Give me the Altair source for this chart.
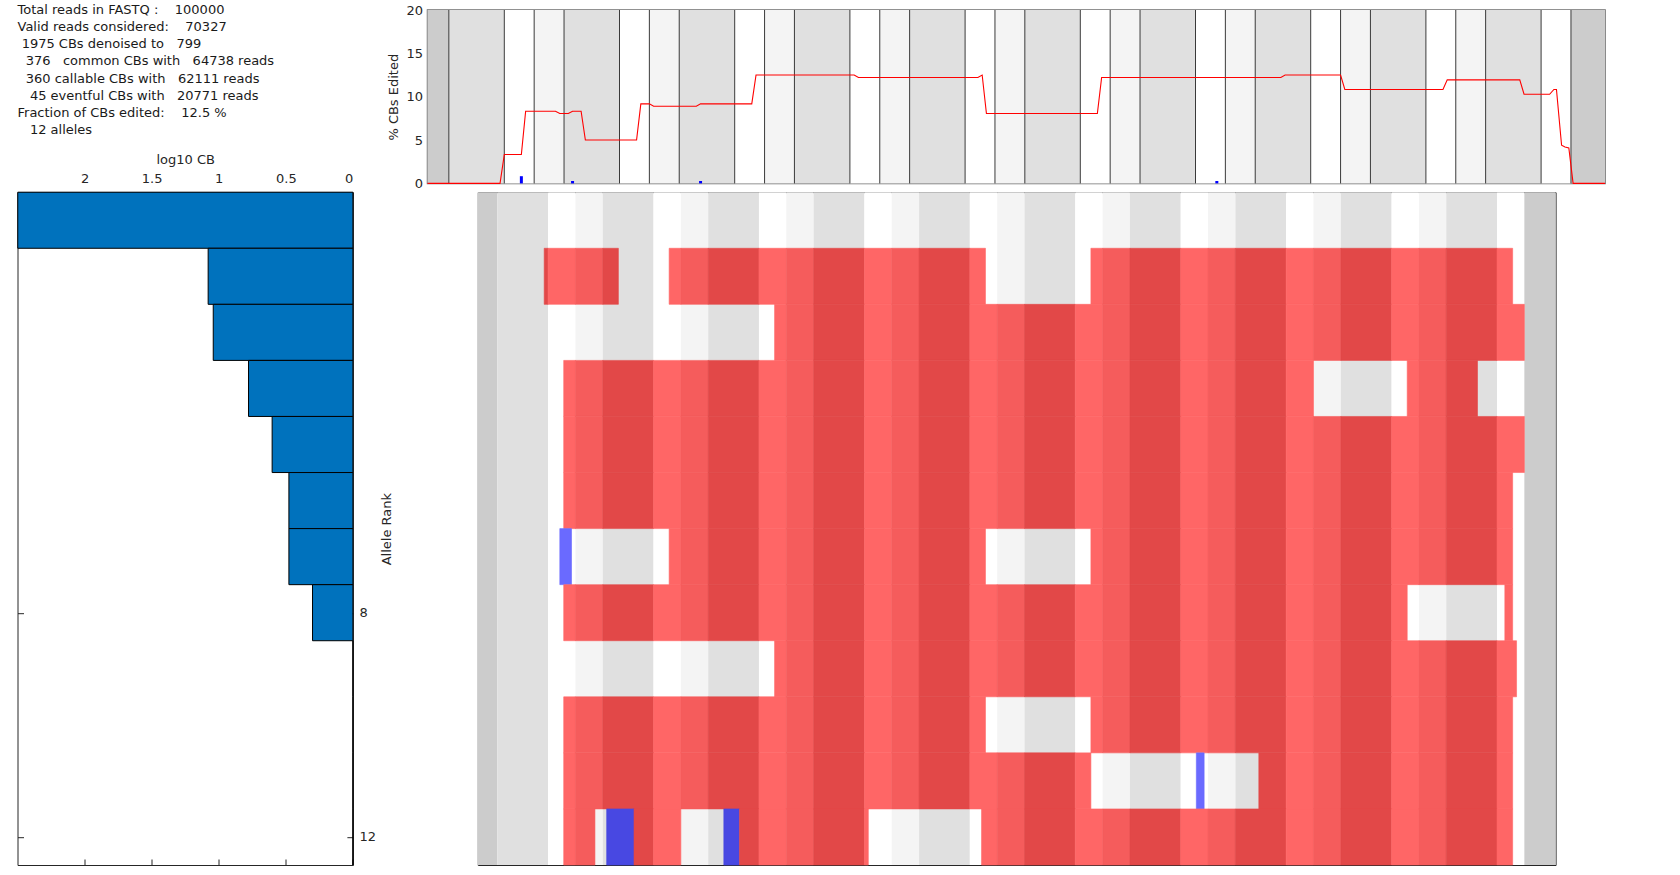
import altair as alt
import pandas as pd

FONT = "DejaVu Sans"
INK = "#262626"

# ---------------- summary text ----------------
info_lines = [
    "Total reads in FASTQ :    100000",
    "Valid reads considered:    70327",
    " 1975 CBs denoised to   799",
    "  376   common CBs with   64738 reads",
    "  360 callable CBs with   62111 reads",
    "   45 eventful CBs with   20771 reads",
    "Fraction of CBs edited:    12.5 %",
    "   12 alleles",
]

# ---------------- amplicon segments (bp) ----------------
seg_bounds = [0, 5, 18, 25, 32, 45, 52, 59, 72, 79, 86, 99, 106, 113, 126, 133, 140,
              153, 160, 167, 180, 187, 194, 207, 214, 221, 234, 241, 248, 261, 268, 276]
seg_kind = ["prefix",
            "consite", "cutsite", "pam", "consite", "cutsite", "pam",
            "consite", "cutsite", "pam", "consite", "cutsite", "pam",
            "consite", "cutsite", "pam", "consite", "cutsite", "pam",
            "consite", "cutsite", "pam", "consite", "cutsite", "pam",
            "consite", "cutsite", "pam",
            "consite", "cutsite", "postfix"]

# ---------------- allele frequencies ----------------
allele_rank = [1, 2, 3, 4, 5, 6, 7, 8, 9, 10, 11, 12]
allele_log10cb = [2.498, 1.079, 1.041, 0.778, 0.602, 0.477, 0.477, 0.301, 0.0, 0.0, 0.0, 0.0]

# ---------------- allele edits (rank, start bp, end bp, type) ----------------
edit_rank = [2, 2, 2, 3, 4, 4, 5, 6, 7, 7, 7, 8, 8, 9, 10, 10, 11, 11, 11, 12, 12, 12, 12, 12, 12]
edit_start = [17, 49, 157, 76, 22, 238, 22, 22, 21, 49, 157, 22, 263, 76, 22, 157, 22, 184, 200,
              22, 33, 40, 63, 67, 129]
edit_end = [36, 130, 265, 268, 214, 256, 268, 265, 24, 130, 265, 238, 265, 266, 130, 265, 157, 186, 265,
            30, 40, 52, 67, 100, 265]
edit_type = ["del", "del", "del", "del", "del", "del", "del", "del", "ins", "del", "del", "del", "del",
             "del", "del", "del", "del", "ins", "del", "del", "ins", "del", "ins", "del", "del"]

# ---------------- % CBs edited trace ----------------
line_bp = [0, 17, 18, 22, 23, 30, 31, 33, 34, 36, 37, 49, 50, 52, 53, 63, 64, 76, 77, 100, 101,
           129, 130, 131, 157, 158, 200, 201, 214, 215, 238, 239, 256, 257, 263, 264, 264.6,
           265.8, 266.6, 267.5, 268.5, 276]
line_pct = [0, 0, 3.33, 3.33, 8.33, 8.33, 8.06, 8.06, 8.33, 8.33, 5.0, 5.0, 9.17, 9.17, 8.89, 8.89,
            9.17, 9.17, 12.5, 12.5, 12.22, 12.22, 12.5, 8.06, 8.06, 12.22, 12.22, 12.5, 12.5, 10.83,
            10.83, 11.94, 11.94, 10.28, 10.28, 10.83, 10.83, 4.4, 4.2, 4.1, 0, 0]

# insertion markers
ins_bp = [22, 34, 64, 185]
ins_pct = [0.83, 0.28, 0.28, 0.28]

base_color = {"prefix": "#cccccc", "postfix": "#cccccc", "consite": "#e0e0e0",
              "cutsite": "#ffffff", "pam": "#f4f4f4"}
del_color = {"prefix": "#d05050", "postfix": "#d05050", "consite": "#e24848",
             "cutsite": "#ff6666", "pam": "#f55c5c"}
ins_color = {"prefix": "#5050d0", "postfix": "#5050d0", "consite": "#4848e2",
             "cutsite": "#6a6aff", "pam": "#5c5cf5"}

# ---------------- build tables ----------------
seg_df = pd.DataFrame({
    "x0": seg_bounds[:-1], "x1": seg_bounds[1:], "kind": seg_kind,
    "color": [base_color[k] for k in seg_kind],
})

pieces = []
for r, s, e, t in zip(edit_rank, edit_start, edit_end, edit_type):
    pal = del_color if t == "del" else ins_color
    for a, b, k in zip(seg_bounds[:-1], seg_bounds[1:], seg_kind):
        lo, hi = max(a, s), min(b, e)
        if hi > lo:
            pieces.append({"rank": r, "x0": lo, "x1": hi, "color": pal[k], "type": t})
piece_df = pd.DataFrame(pieces)

bar_df = pd.DataFrame({"rank": allele_rank, "val": allele_log10cb})
# zero-width prefix keeps the leading blanks from being trimmed
text_df = pd.DataFrame({"line": list(range(len(info_lines))),
                        "txt": ["\u200b" + s.replace(" ", "\u00a0") for s in info_lines]})
line_df = pd.DataFrame({"bp": line_bp, "pct": line_pct})
ins_df = pd.DataFrame({"bp": ins_bp, "pct": ins_pct})
bound_df = pd.DataFrame({"b": seg_bounds[1:-1]})

# ---------------- geometry ----------------
TOP_W, TOP_H = 1177.6, 173.4
BAR_W, HM_W, ROW_H = 335.4, 1077.8, 672.8
GAP_H = 124.3
GAP_V = 8.8
TXT_W = 409.4

# ---------------- text block ----------------
text_chart = alt.Chart(text_df).mark_text(
    align="left", baseline="middle", fontSize=13, font=FONT, color="#1a1a1a"
).encode(
    x=alt.value(0),
    y=alt.Y("line:Q", scale=alt.Scale(domain=[0, TOP_H / 17.14], reverse=True, nice=False, zero=False),
            axis=None),
    text="txt:N",
).properties(width=TXT_W, height=TOP_H, view=alt.ViewBackground(stroke="transparent"))

# ---------------- top plot ----------------
xs_top = alt.Scale(domain=[0, 276], nice=False, zero=False)
ys_top = alt.Scale(domain=[0, 20], nice=False, zero=False)
y_axis_top = alt.Axis(values=[0, 5, 10, 15, 20], title="% CBs Edited", offset=-10.5, tickSize=10.5,
                      domain=False, grid=False, labelPadding=5, titlePadding=5,
                      labelFontSize=13, titleFontSize=13, titleFontWeight="normal",
                      labelFont=FONT, titleFont=FONT, labelColor=INK, titleColor=INK,
                      tickColor=INK, tickWidth=1)

top_bg = alt.Chart(seg_df).transform_calculate(ylo="0", yhi="20").mark_rect().encode(
    x=alt.X("x0:Q", scale=xs_top, axis=None), x2="x1:Q",
    y=alt.Y("ylo:Q", scale=ys_top, axis=y_axis_top), y2="yhi:Q",
    color=alt.Color("color:N", scale=None),
)
top_rules = alt.Chart(bound_df).mark_rule(color="#3a3a3a", strokeWidth=1).encode(
    x=alt.X("b:Q", scale=xs_top, axis=None)
)
top_line = alt.Chart(line_df).mark_line(color="#ff0000", strokeWidth=1.1).encode(
    x=alt.X("bp:Q", scale=xs_top, axis=None),
    y=alt.Y("pct:Q", scale=ys_top, axis=y_axis_top),
)
top_ins = alt.Chart(ins_df).transform_calculate(zero="0").mark_rule(color="#0000ff", strokeWidth=3).encode(
    x=alt.X("bp:Q", scale=xs_top, axis=None),
    y=alt.Y("pct:Q", scale=ys_top, axis=y_axis_top), y2="zero:Q",
)
top_chart = alt.layer(top_bg, top_rules, top_line, top_ins).properties(
    width=TOP_W, height=TOP_H,
    view=alt.ViewBackground(stroke="#6e6e6e", strokeWidth=1.5),
)

# ---------------- allele bar chart ----------------
bx = alt.Scale(domain=[0, 2.5], reverse=True, nice=False, zero=False)
by = alt.Scale(domain=[0.5, 12.5], reverse=True, nice=False, zero=False)
common_ax = dict(offset=-6, tickSize=6, domain=False, grid=False, labelFontSize=13, titleFontSize=13,
                 titleFontWeight="normal", labelFont=FONT, titleFont=FONT, labelColor=INK,
                 titleColor=INK, tickColor=INK)
bars = alt.Chart(bar_df).transform_calculate(
    ylo="datum.rank - 0.5", yhi="datum.rank + 0.5", zero="0"
).mark_rect(color="#0072bd", stroke="#000000", strokeWidth=1).encode(
    x=alt.X("val:Q", scale=bx, axis=alt.Axis(orient="top", values=[0, 0.5, 1, 1.5, 2], title="log10 CB",
                                              labelPadding=7, titlePadding=6, format="~r", **common_ax)),
    x2="zero:Q",
    y=alt.Y("ylo:Q", scale=by, axis=alt.Axis(orient="right", values=[8, 12], title="Allele Rank",
                                              labelPadding=6, titlePadding=18, titleAngle=270,
                                              format="d", **common_ax)),
    y2="yhi:Q",
)
bar_ticks = alt.Chart(bar_df).mark_point(opacity=0).encode(
    x=alt.X("val:Q", scale=bx, axis=alt.Axis(orient="bottom", values=[0, 0.5, 1, 1.5, 2], title="",
                                              labels=False, **common_ax)),
    y=alt.Y("rank:Q", scale=by, axis=alt.Axis(orient="left", values=[8, 12], title="",
                                               labels=False, **common_ax)),
)
bar_chart = alt.layer(bars, bar_ticks).resolve_axis(x="independent", y="independent").properties(
    width=BAR_W, height=ROW_H, view=alt.ViewBackground(stroke=INK, strokeWidth=1)
)

# ---------------- allele heatmap ----------------
hx = alt.Scale(domain=[0, 276], nice=False, zero=False)
hm_bg = alt.Chart(seg_df).transform_calculate(ylo="0.5", yhi="12.5").mark_rect().encode(
    x=alt.X("x0:Q", scale=hx, axis=None), x2="x1:Q",
    y=alt.Y("ylo:Q", scale=by, axis=None), y2="yhi:Q",
    color=alt.Color("color:N", scale=None),
)
hm_edits = alt.Chart(piece_df).transform_calculate(
    ylo="datum.rank - 0.5", yhi="datum.rank + 0.5"
).mark_rect(strokeWidth=0.6).encode(
    x=alt.X("x0:Q", scale=hx, axis=None), x2="x1:Q",
    y=alt.Y("ylo:Q", scale=by, axis=None), y2="yhi:Q",
    color=alt.Color("color:N", scale=None),
    stroke=alt.Stroke("color:N", scale=None),
)
hm_chart = alt.layer(hm_bg, hm_edits).properties(
    width=HM_W, height=ROW_H, view=alt.ViewBackground(stroke=INK, strokeWidth=1)
)

# nested concat groups have no own size under "flush" bounds, so the row offset
# equals the spacing: first-row height plus the gap
row1 = alt.hconcat(text_chart, top_chart, spacing=0, bounds="flush")
row2 = alt.hconcat(bar_chart, hm_chart, spacing=GAP_H, bounds="flush")
chart = alt.vconcat(row1, row2, spacing=TOP_H + GAP_V, bounds="flush").properties(
    padding={"left": 14.5, "top": 3, "right": 0, "bottom": 0}
).configure(font=FONT).configure_view(stroke=None)

chart.save("out.html", embed_options={"renderer": "svg", "actions": False})
